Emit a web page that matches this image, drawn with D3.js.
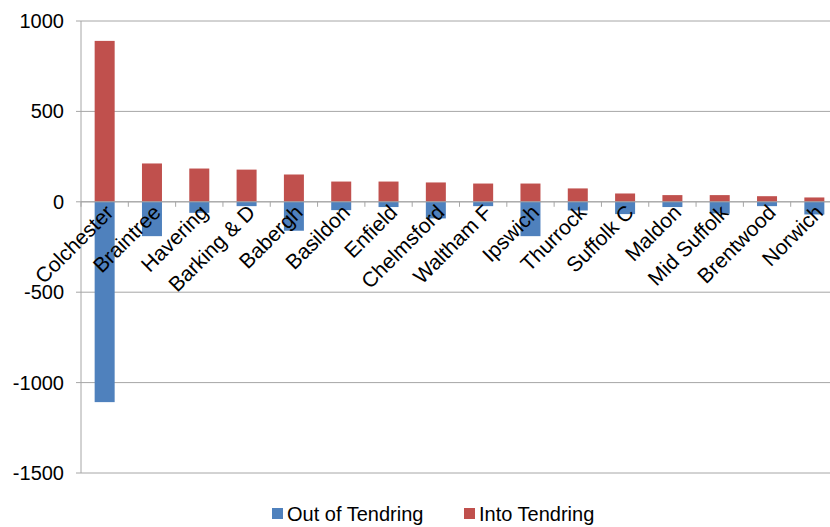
<!DOCTYPE html>
<html><head><meta charset="utf-8">
<script src="https://cdn.jsdelivr.net/npm/d3@7"></script>
<style>body{margin:0;background:#fff}text{font-family:"Liberation Sans",Arial,sans-serif}</style>
</head><body><svg id="c" width="830" height="527"></svg>
<script>
var places = ['Colchester', 'Braintree', 'Havering', 'Barking & D', 'Babergh', 'Basildon', 'Enfield', 'Chelmsford',
  'Waltham F', 'Ipswich', 'Thurrock', 'Suffolk C', 'Maldon', 'Mid Suffolk', 'Brentwood', 'Norwich']
var outOf = [-1108, -190, -61, -24, -160, -46, -29, -92, -24, -190, -48, -68, -29, -64, -24, -70]
var into = [890, 212, 184, 178, 151, 112, 112, 107, 101, 101, 74, 46, 37, 37, 31, 24]
var yTicks = [1000, 500, 0, -500, -1000, -1500]

var svg = d3.select('#c')
var x = d3.scaleBand().domain(places).range([81, 838])
var y = d3.scaleLinear().domain([-1500, 1000]).range([473, 21])
var bw = 20

// gridlines
svg.append('g').selectAll('line').data(yTicks).enter().append('line')
  .attr('x1', 81).attr('x2', 830).attr('y1', d => y(d)).attr('y2', d => y(d))
  .attr('stroke', '#a6a6a6').attr('stroke-width', 1)

svg.append('g').selectAll('rect').data(into).enter().append('rect')
  .attr('x', (d, i) => x(places[i]) + x.bandwidth() / 2 - bw / 2).attr('width', bw)
  .attr('y', d => y(d)).attr('height', d => y(0) - y(d)).attr('fill', '#c0504d')
svg.append('g').selectAll('rect').data(outOf).enter().append('rect')
  .attr('x', (d, i) => x(places[i]) + x.bandwidth() / 2 - bw / 2).attr('width', bw)
  .attr('y', y(0)).attr('height', d => y(d) - y(0)).attr('fill', '#4f81bd')

// y axis
svg.append('line').attr('x1', 81).attr('x2', 81).attr('y1', 21).attr('y2', 473).attr('stroke', '#a6a6a6')
svg.append('g').selectAll('line').data(yTicks).enter().append('line')
  .attr('x1', 76).attr('x2', 81).attr('y1', d => y(d)).attr('y2', d => y(d)).attr('stroke', '#a6a6a6')
svg.append('g').selectAll('text').data(yTicks).enter().append('text')
  .attr('x', 64).attr('y', d => y(d) + 7).attr('text-anchor', 'end')
  .attr('font-size', 20).text(d => d)

// x axis at zero
svg.append('line').attr('x1', 81).attr('x2', 830).attr('y1', y(0)).attr('y2', y(0)).attr('stroke', '#a6a6a6')
svg.append('g').selectAll('line').data(places).enter().append('line')
  .attr('x1', d => x(d)).attr('x2', d => x(d)).attr('y1', y(0)).attr('y2', y(0) + 5).attr('stroke', '#a6a6a6')
svg.append('g').selectAll('text').data(places).enter().append('text')
  .attr('text-anchor', 'end').attr('font-size', 21)
  .attr('transform', d => 'translate(' + (x(d) + x.bandwidth() / 2 + 10) + ',' + (y(0) + 12) + ') rotate(-45)')
  .text(d => d)

// legend
var leg = [['Out of Tendring', '#4f81bd', 272], ['Into Tendring', '#c0504d', 464]]
svg.append('g').selectAll('g').data(leg).enter().append('g').each(function (d) {
  var g = d3.select(this)
  g.append('rect').attr('x', d[2]).attr('y', 508).attr('width', 11).attr('height', 11).attr('fill', d[1])
  g.append('text').attr('x', d[2] + 15).attr('y', 521).attr('font-size', 20).text(d[0])
})
</script></body></html>
